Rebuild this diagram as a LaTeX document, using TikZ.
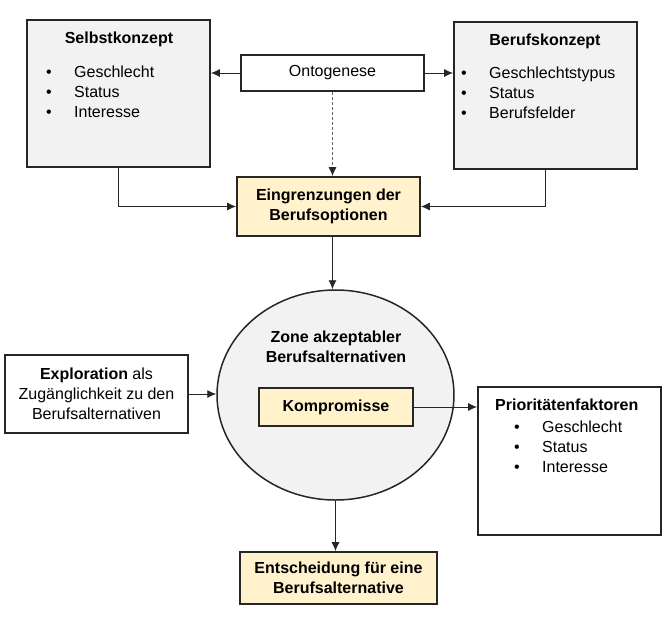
\documentclass[tikz,border=0pt]{standalone}
\usepackage{fontspec}
\setmainfont{Liberation Sans}
\usetikzlibrary{arrows.meta,shapes.geometric}
\definecolor{boxgray}{HTML}{F2F2F2}
\definecolor{boxyellow}{HTML}{FFF2CC}
\definecolor{linedark}{HTML}{262626}
\newcommand{\arw}{-{Latex[length=9pt,width=8pt,color=linedark]}}
\newcommand{\itm}{\makebox[28pt][l]{\textbullet}\strut}

\begin{document}
\begin{tikzpicture}[x=1pt,y=-1pt,font=\fontsize{16}{20}\selectfont,
  box/.style={draw=linedark,line width=1.8pt,fill=white,align=center,inner sep=0pt},
  gbox/.style={box,fill=boxgray},
  ybox/.style={box,fill=boxyellow,font=\fontsize{16}{20}\selectfont\bfseries},
  con/.style={draw=linedark,line width=0.9pt}]
\useasboundingbox (0,0) rectangle (672,619);
%upper row
\node[gbox,minimum width=183pt,minimum height=147pt] (selbst) at (118.5,93.5) {};
\node[gbox,minimum width=183pt,minimum height=147pt] (beruf) at (545.5,95.5) {};
\node[box,minimum width=183pt,minimum height=36pt] (onto) at (332.5,73) {Ontogenese};
\node[anchor=base,inner sep=0pt,font=\fontsize{16}{20}\selectfont\bfseries] (selbsttitle) at (119,43) {Selbstkonzept};
\node[anchor=north west,inner sep=0pt,align=left] (selbstlist) at (46,63) {\itm Geschlecht\\\itm Status\\\itm Interesse};
\node[anchor=base,inner sep=0pt,font=\fontsize{16}{20}\selectfont\bfseries] (beruftitle) at (545,45) {Berufskonzept};
\node[anchor=north west,inner sep=0pt,align=left] (beruflist) at (461,64) {\itm Geschlechtstypus\\\itm Status\\\itm Berufsfelder};
\node[ybox,minimum width=183pt,minimum height=59pt] (eingr) at (328.5,206.5) {Eingrenzungen der\\Berufsoptionen};
%zone
\node[draw=linedark,line width=1.5pt,fill=boxgray,ellipse,minimum width=237pt,minimum height=210pt] (zone) at (335.5,395) {};
\node[inner sep=0pt,align=center,font=\fontsize{16}{20}\selectfont\bfseries] (zonetitle) at (336,347) {Zone akzeptabler\\Berufsalternativen};
\node[ybox,minimum width=154pt,minimum height=38pt] (komp) at (336,407) {Kompromisse};
\node[box,minimum width=183pt,minimum height=78pt] (expl) at (96.5,394) {\textbf{Exploration} als\\Zugänglichkeit zu den\\Berufsalternativen};
\node[box,minimum width=183pt,minimum height=148pt] (prio) at (569.5,461) {};
\node[anchor=base west,inner sep=0pt,font=\fontsize{16}{20}\selectfont\bfseries] (priotitle) at (495,410) {Prioritätenfaktoren};
\node[anchor=north west,inner sep=0pt,align=left] (priolist) at (514,418) {\itm Geschlecht\\\itm Status\\\itm Interesse};
\node[ybox,minimum width=197pt,minimum height=52pt] (ents) at (338.5,578) {Entscheidung für eine\\Berufsalternative};
%connectors
\draw[con,\arw] (onto.west) -- (onto.west -| selbst.east);
\draw[con,\arw] (onto.east) -- (onto.east -| beruf.west);
\draw[con,draw=linedark!70,dash pattern=on 3pt off 2pt,\arw] (onto.south) -- (onto.south |- eingr.north);
\draw[con,\arw] (selbst.south) |- (eingr.west);
\draw[con,\arw] (beruf.south) |- (eingr.east);
\draw[con,\arw] (eingr.south -| onto.south) -- (zone.north -| onto.south);
\draw[con,\arw] (expl.east) -- (expl.east -| zone.west);
\draw[con,\arw] (komp.east) -- (komp.east -| prio.west);
\draw[con,\arw] (zone.south) -- (zone.south |- ents.north);
\end{tikzpicture}
\end{document}
